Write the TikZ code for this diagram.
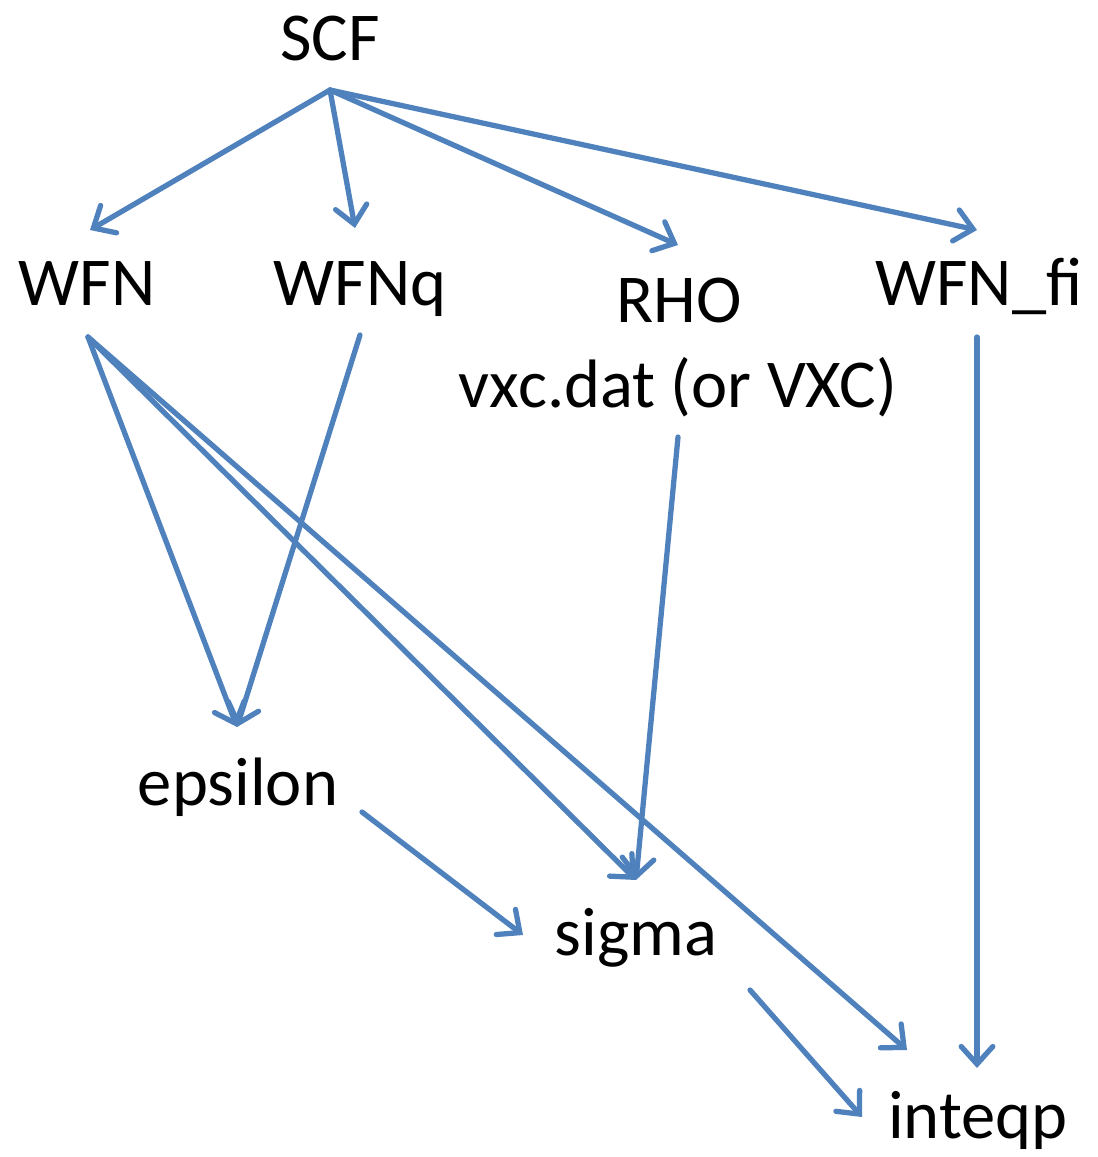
\documentclass[tikz,border=0pt]{standalone}
\usepackage{fontspec}
\setmainfont{Carlito}
\usetikzlibrary{arrows.meta}
\definecolor{linkblue}{RGB}{79,129,189}

\begin{document}
\begin{tikzpicture}[x=0.02cm, y=-0.02cm,
	lbl/.style={anchor=base, inner sep=0pt, font=\fontsize{39}{46}\selectfont},
	link/.style={-{Straight Barb[length=10pt, width=18pt, line cap=round]}, linkblue, line width=3pt, line cap=round}]
	\useasboundingbox (0,0) rectangle (1098,1157);
	
	% Labels
	\node[lbl] (scf) at (330,60) {SCF};
	\node[lbl] (wfn) at (87,305) {WFN};
	\node[lbl] (wfnq) at (360,305) {WFNq};
	\node[lbl] (wfnfi) at (979,305) {WFN\_fi};
	\node[lbl] (rho) at (679,322) {RHO};
	\node[lbl] (vxc) at (678,407) {vxc.dat (or VXC)};
	\node[lbl] (eps) at (238,805) {epsilon};
	\node[lbl] (sigma) at (636,955) {sigma};
	\node[lbl] (inteqp) at (978,1138) {inteqp};
	
	% Arrow ends
	\coordinate (scf-out) at (330,90);
	\coordinate (wfn-in) at (90,230);
	\coordinate (wfnq-in) at (355,228);
	\coordinate (rho-in) at (678,245);
	\coordinate (wfnfi-in) at (977,230);
	\coordinate (wfn-out) at (88,337);
	\coordinate (wfnq-out) at (360,335);
	\coordinate (vxc-out) at (678,437);
	\coordinate (wfnfi-out) at (977,337);
	\coordinate (eps-in) at (237,727);
	\coordinate (eps-out) at (362,812);
	\coordinate (sigma-in) at (636,880);
	\coordinate (sigma-left) at (523,935);
	\coordinate (sigma-out) at (750,990);
	\coordinate (inteqp-in) at (907,1050);
	\coordinate (inteqp-top) at (977,1068);
	\coordinate (inteqp-left) at (862,1117);
	
	% SCF outputs
	\draw[link] (scf-out) -- (wfn-in);
	\draw[link] (scf-out) -- (wfnq-in);
	\draw[link] (scf-out) -- (rho-in);
	\draw[link] (scf-out) -- (wfnfi-in);
	
	% Inputs to epsilon
	\draw[link] (wfn-out) -- (eps-in);
	\draw[link] (wfnq-out) -- (eps-in);
	
	% Inputs to sigma
	\draw[link] (wfn-out) -- (sigma-in);
	\draw[link] (vxc-out) -- (sigma-in);
	\draw[link] (eps-out) -- (sigma-left);
	
	% Inputs to inteqp
	\draw[link] (wfn-out) -- (inteqp-in);
	\draw[link] (wfnfi-out) -- (inteqp-top);
	\draw[link] (sigma-out) -- (inteqp-left);
\end{tikzpicture}
\end{document}
